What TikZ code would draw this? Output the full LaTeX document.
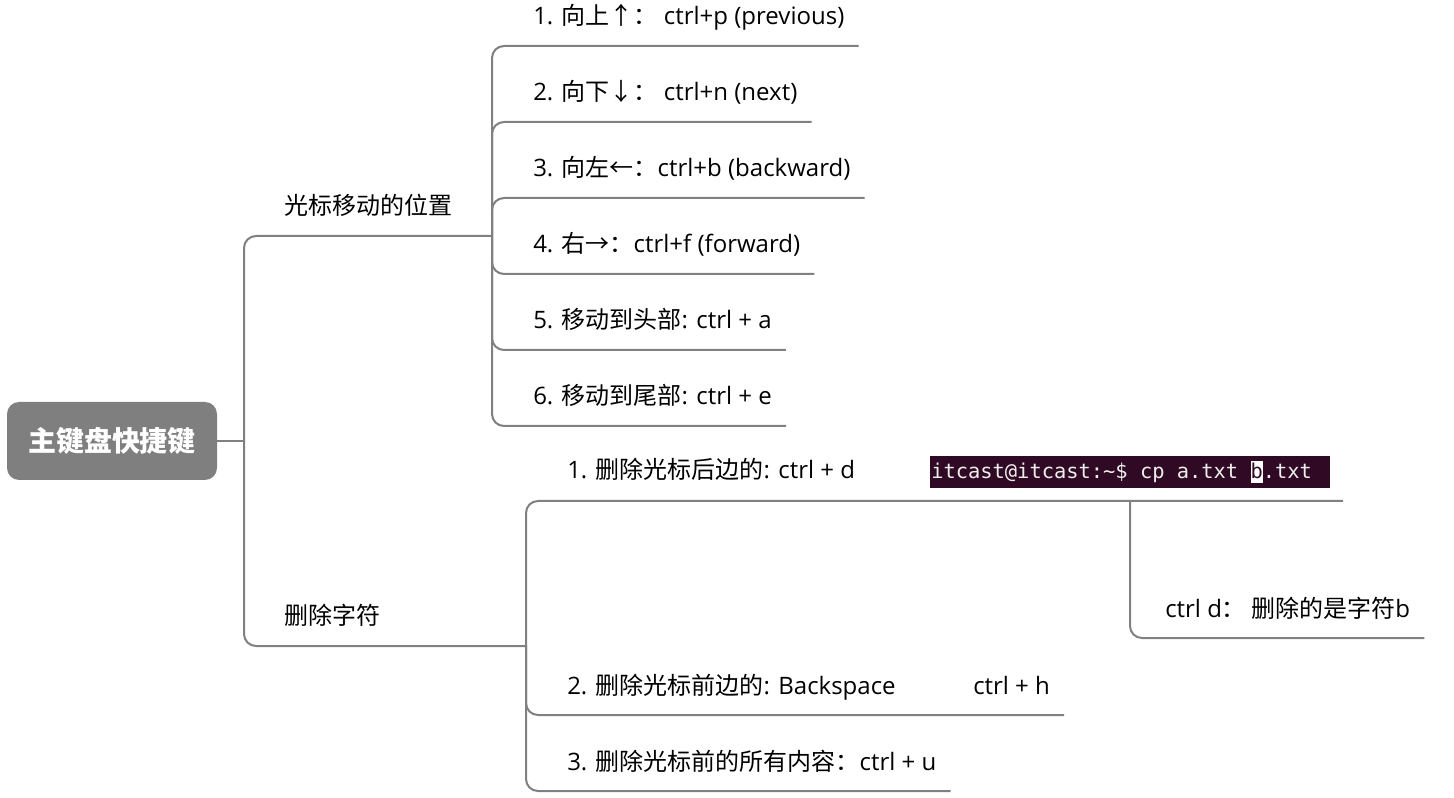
\documentclass[tikz,border=0pt]{standalone}
\usepackage{fontspec}
\setmainfont{Open Sans}
\newfontfamily\cjk{Noto Sans CJK SC}
\newfontfamily\termfont{DejaVu Sans Mono}
\definecolor{linegray}{HTML}{808080}
\definecolor{rootgray}{HTML}{7F7F7F}
\definecolor{termbg}{HTML}{300A24}
\definecolor{termfg}{HTML}{EEEEEC}
\newcommand\zh[1]{{\cjk #1}}
\newcommand\tsp{\hspace*{9.21pt}}
\begin{document}
\begin{tikzpicture}[x=0.75pt,y=-0.75pt,
  conn/.style={draw=linegray,line width=1.5pt,rounded corners=9pt},
  lab/.style={anchor=base west,inner xsep=10.5pt,inner ysep=0pt,font=\fontsize{18}{22}\selectfont,text=black},
  rootbox/.style={fill=rootgray,rounded corners=9pt,minimum width=157.5pt,minimum height=58.5pt,inner sep=0pt,text=white,font=\fontsize{21}{25}\selectfont\cjk\bfseries},
  termbox/.style={anchor=west,fill=termbg,text=termfg,inner xsep=0.75pt,inner ysep=0pt,minimum height=24pt,text width=298.5pt,align=left,font=\fontsize{15.3}{18}\termfont}]
\useasboundingbox (0,0) rectangle (1454,798);

% root
\node[rootbox] (root) at (112,441) {主键盘快捷键};
\coordinate (jR) at (244,441);
\coordinate (jA) at (492,236);
\coordinate (jB) at (526,646);
\coordinate (jS) at (1130,501);

% branches
\node[lab] (b1) at (270,215) {\zh{光标移动的位置}};
\node[lab] (b2) at (270,624) {\zh{删除字符}};

% branch 1 children
\node[lab] (c1) at (519,25) {1. \zh{向上↑：} ctrl+p (previous)};
\node[lab] (c2) at (519,101) {2. \zh{向下↓：} ctrl+n (next)};
\node[lab] (c3) at (519,177) {3. \zh{向左←：}ctrl+b (backward)};
\node[lab] (c4) at (519,253) {4. \zh{右→：}ctrl+f (forward)};
\node[lab] (c5) at (519,329) {5. \zh{移动到头部}: ctrl + a};
\node[lab] (c6) at (519,405) {6. \zh{移动到尾部}: ctrl + e};

% branch 2 children
\node[lab] (d1) at (553,479) {1. \zh{删除光标后边的}: ctrl + d};
\node[termbox] (img) at (930,472) {itcast@itcast:\textasciitilde\$\tsp cp\tsp a.txt\tsp\makebox[0pt][l]{\color{white}\rule[-3.5pt]{9.2pt}{17pt}}\textcolor{termbg}{b}.txt};
\coordinate (d1end) at (1343,501);
\node[lab] (d2) at (553,694) {\makebox[304.5pt][l]{2. \zh{删除光标前边的}: Backspace}ctrl + h};
\node[lab] (d3) at (553,770) {3. \zh{删除光标前的所有内容：}ctrl + u};
\node[lab] (s1) at (1151,617) {ctrl d\zh{： 删除的是字符}b};

% connectors
\draw[conn] (root.east) -- (jR);
\draw[conn] (jR) |- (jA);
\draw[conn] (jR) |- (jB);
\foreach \n/\y in {c1/46,c2/122,c3/198,c4/274,c5/350,c6/426}
  \draw[conn] (jA) |- (\n.east |- 0,\y);
\draw[conn] (jB) |- (d1end);
\draw[conn] (jB) |- (d2.east |- 0,715);
\draw[conn] (jB) |- (d3.east |- 0,791);
\draw[conn] (jS) |- (s1.east |- 0,638);
\end{tikzpicture}
\end{document}
